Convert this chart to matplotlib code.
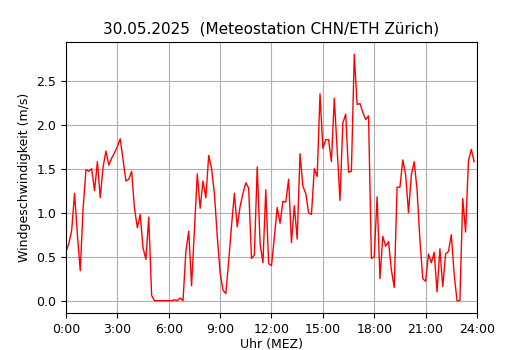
import matplotlib
matplotlib.use("Agg")
import matplotlib.pyplot as plt
import numpy as np

# Windgeschwindigkeit (m/s), 10-Minuten-Werte ab 0:00
wind = [0.56, 0.65, 0.80, 1.22, 0.75, 0.34, 1.05, 1.49, 1.47, 1.50,
        1.25, 1.58, 1.17, 1.52, 1.70, 1.54, 1.62, 1.68, 1.75, 1.84,
        1.60, 1.36, 1.38, 1.47, 1.05, 0.83, 0.98, 0.60, 0.47, 0.95,
        0.06, 0.00, 0.00, 0.00, 0.00, 0.00, 0.00, 0.00, 0.01, 0.00,
        0.03, 0.00, 0.56, 0.79, 0.17, 0.80, 1.44, 1.05, 1.36, 1.17,
        1.65, 1.50, 1.22, 0.73, 0.32, 0.12, 0.08, 0.45, 0.85, 1.22,
        0.84, 1.07, 1.22, 1.34, 1.28, 0.48, 0.52, 1.52, 0.65, 0.43,
        1.26, 0.42, 0.40, 0.72, 1.06, 0.88, 1.13, 1.12, 1.38, 0.66,
        1.08, 0.70, 1.67, 1.30, 1.22, 1.00, 0.98, 1.50, 1.41, 2.35,
        1.73, 1.83, 1.83, 1.58, 2.30, 1.72, 1.14, 2.02, 2.12, 1.46,
        1.47, 2.80, 2.23, 2.24, 2.14, 2.06, 2.10, 0.48, 0.50, 1.18,
        0.25, 0.73, 0.62, 0.67, 0.35, 0.15, 1.29, 1.29, 1.60, 1.43,
        1.00, 1.43, 1.58, 1.26, 0.69, 0.25, 0.22, 0.53, 0.43, 0.55,
        0.10, 0.59, 0.16, 0.53, 0.56, 0.75, 0.30, 0.00, 0.00, 1.16,
        0.78, 1.59, 1.72, 1.58]
hours = np.arange(len(wind)) / 6.0

tick_pos = [0, 3, 6, 9, 12, 15, 18, 21, 24]
tick_labels = ["0:00", "3:00", "6:00", "9:00", "12:00", "15:00", "18:00", "21:00", "24:00"]

fig = plt.figure(figsize=(5.3, 3.5), dpi=100)
ax = fig.add_axes([0.1245, 0.1057, 0.7755, 0.7743])
ax.plot(hours, wind, color="red", linewidth=1)
ax.set_xlim(0, 24)
ax.set_xticks(tick_pos)
ax.set_xticklabels(tick_labels)
ax.tick_params(labelsize=9)
ax.grid(True)
ax.set_xlabel("Uhr (MEZ)", fontsize=9, labelpad=1.5)
ax.set_ylabel("Windgeschwindigkeit (m/s)", fontsize=9)
ax.set_title("30.05.2025  (Meteostation CHN/ETH Zürich)", fontsize=11)

fig.savefig("out.png", dpi=100)
